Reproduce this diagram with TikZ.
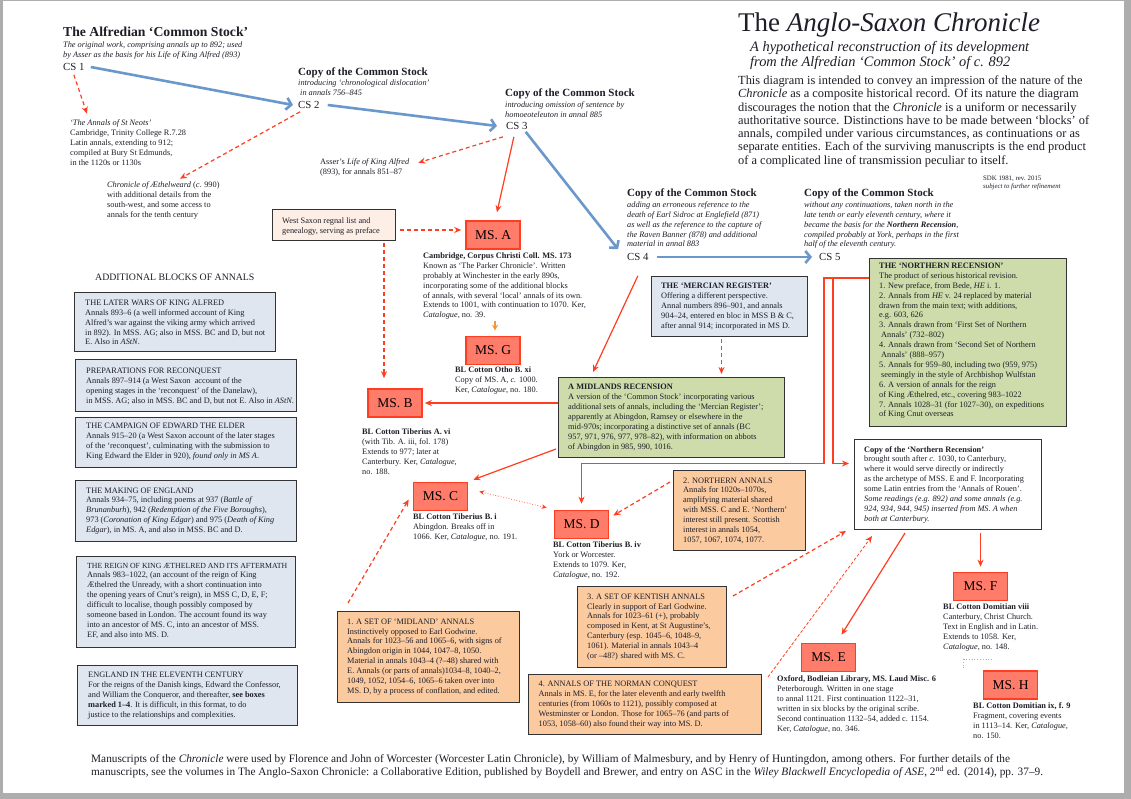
\documentclass[tikz,border=0pt]{standalone}
\usepackage{fontspec}
\setmainfont{Liberation Serif}
\usetikzlibrary{positioning,arrows.meta,calc}

\definecolor{csblue}{HTML}{6B98CB}
\definecolor{linered}{HTML}{FF3D20}
\definecolor{msred}{HTML}{FF7C6A}
\definecolor{blockblue}{HTML}{DFE6F0}
\definecolor{recgreen}{HTML}{CDDCAA}
\definecolor{annorange}{HTML}{FBCA9F}
\definecolor{wspeach}{HTML}{FDEFE5}
\definecolor{gorange}{HTML}{F39A2E}
\definecolor{dotblue}{HTML}{9DB2D2}
\definecolor{inkcol}{HTML}{1E1E28}

\newcommand{\smalltxt}{\fontsize{8.3}{9.9}\selectfont}
\newcommand{\itxt}{\fontsize{8.3}{9.8}\selectfont\itshape}
\newcommand{\headtxt}{\fontsize{11}{13}\selectfont\bfseries}

\tikzset{
    msnode/.style={
        rectangle,
        draw=linered, % red border
        fill=msred,
        line width=1.6pt,
        minimum width=54pt,
        minimum height=28pt,
        inner sep=0,
        font=\fontsize{13.5}{15}\selectfont
    },
    txtnode/.style={
        anchor=north west,
        align=left,
        inner sep=0,
        text=inkcol,
        font=\smalltxt
    },
    cslabel/.style={
        anchor=west,
        inner sep=1pt,
        text=inkcol,
        font=\fontsize{10.8}{12}\selectfont
    },
    boxbase/.style={
        rectangle,
        anchor=north west,
        draw=black!80,
        line width=1pt,
        inner sep=0
    },
    blockbox/.style={boxbase, fill=blockblue},
    recbox/.style={boxbase, fill=recgreen},
    annbox/.style={boxbase, fill=annorange},
    copybox/.style={boxbase, fill=white},
    prefacebox/.style={boxbase, fill=wspeach}
}

\begin{document}
\begin{tikzpicture}[
    x=1pt, y=-1pt,
    bluearrow/.style={draw=csblue, line width=2.6pt, -{Straight Barb[length=5pt,width=12pt]}},
    redarrow/.style={draw=linered, line width=1.2pt, -{Stealth[length=7pt,width=6pt]}},
    reddash/.style={redarrow, dash pattern=on 4pt off 3pt},
    redfine/.style={redarrow, line width=0.8pt, dash pattern=on 3pt off 2pt},
    reddot/.style={draw=linered, line width=0.7pt, dotted, {Stealth[length=5pt,width=4.5pt]}-{Stealth[length=5pt,width=4.5pt]}},
    orangearrow/.style={draw=gorange, line width=1.3pt, -{Stealth[length=6pt,width=6pt]}}
]
\useasboundingbox (0,0) rectangle (1131,799);
% page
\fill[black!32] (0,0) rectangle (1131,799);
\fill[white] (3,1.5) rectangle (1124,793);

% title and introduction
\node[txtnode, font=\fontsize{27}{30}\selectfont] (title) at (738,13) {The \textit{Anglo-Saxon Chronicle}};
\node[txtnode, font=\fontsize{14.4}{15.2}\selectfont\itshape] (subtitle) at (750,41) {A hypothetical reconstruction of its development\\
from the Alfredian ‘Common Stock’ of c. 892};
\node[txtnode, font=\fontsize{12.4}{13.3}\selectfont] (intro) at (738,75.5) {This diagram is intended to convey an impression of the nature of the\\
\textit{Chronicle} as a composite historical record. Of its nature the diagram\\
discourages the notion that the \textit{Chronicle} is a uniform or necessarily\\
authoritative source. Distinctions have to be made between ‘blocks’ of\\
annals, compiled under various circumstances, as continuations or as\\
separate entities. Each of the surviving manuscripts is the end product\\
of a complicated line of transmission peculiar to itself.};
\node[txtnode, font=\fontsize{6.8}{8.6}\selectfont] (sdk) at (983,175.5) {SDK 1981, rev. 2015\\
\textit{subject to further refinement}};

% the Common Stock
\node[txtnode, font=\fontsize{13.7}{16}\selectfont\bfseries] (alfred) at (63,26.7) {The Alfredian ‘Common Stock’};
\node[txtnode, font=\itxt] (alfrednote) at (63,41.7) {The original work, comprising annals up to 892; used\\
by Asser as the basis for his Life of King Alfred (893)};
\node[cslabel] (cs1) at (62,67) {CS 1};

\node[txtnode, font=\headtxt] (cs2head) at (298,67.7) {Copy of the Common Stock};
\node[txtnode, font=\itxt] (cs2note) at (298,79.7) {introducing ‘chronological dislocation’\\
\hspace{2pt}in annals 756–845};
\node[cslabel] (cs2) at (297,105) {CS 2};

\node[txtnode, font=\headtxt] (cs3head) at (505,88.7) {Copy of the Common Stock};
\node[txtnode, font=\itxt] (cs3note) at (505,101.7) {introducing omission of sentence by\\
homoeoteleuton in annal 885};
\node[cslabel] (cs3) at (505,126) {CS 3};

\node[txtnode, font=\headtxt] (cs4head) at (627,188.7) {Copy of the Common Stock};
\node[txtnode, font=\itxt] (cs4note) at (627,201.7) {adding an erroneous reference to the\\
death of Earl Sidroc at Englefield (871)\\
as well as the reference to the capture of\\
the Raven Banner (878) and additional\\
material in annal 883};
\node[cslabel] (cs4) at (626,257) {CS 4};

\node[txtnode, font=\headtxt] (cs5head) at (804,188.7) {Copy of the Common Stock};
\node[txtnode, font=\itxt] (cs5note) at (804,201.7) {without any continuations, taken north in the\\
late tenth or early eleventh century, where it\\
became the basis for the \textbf{Northern Recension},\\
compiled probably at York, perhaps in the first\\
half of the eleventh century.};
\node[cslabel] (cs5) at (818,257) {CS 5};

% early derivatives
\node[txtnode] (stneots) at (70,119.7) {\textit{‘The Annals of St Neots’}\\
Cambridge, Trinity College R.7.28\\
Latin annals, extending to 912;\\
compiled at Bury St Edmunds,\\
in the 1120s or 1130s};
\node[txtnode] (aethel) at (107,181.7) {\textit{Chronicle of Æthelweard} (\textit{c.} 990)\\
with additional details from the\\
south-west, and some access to\\
annals for the tenth century};
\node[txtnode] (asser) at (320,158.7) {Asser’s \textit{Life of King Alfred}\\
(893), for annals 851–87};

\node[prefacebox, minimum width=123pt, minimum height=31pt] (wsbox) at (272,209) {};
\node[txtnode, below right=8.7pt and 10pt of wsbox.north west] (wstxt) {West Saxon regnal list and\\
genealogy, serving as preface};

% additional blocks of annals
\node[txtnode, font=\fontsize{9.8}{11}\selectfont] (addhead) at (95,273.8) {ADDITIONAL BLOCKS OF ANNALS};

\node[blockbox, minimum width=201pt, minimum height=59pt] (wars) at (74,292) {};
\node[txtnode, below right=7.7pt and 11pt of wars.north west] (warstxt) {THE LATER WARS OF KING ALFRED\\
Annals 893–6 (a well informed account of King\\
Alfred’s war against the viking army which arrived\\
in 892). In MSS. AG; also in MSS. BC and D, but not\\
E. Also in \textit{AStN}.};

\node[blockbox, minimum width=221pt, minimum height=52pt] (reconq) at (75,359) {};
\node[txtnode, below right=9.1pt and 11pt of reconq.north west] (reconqtxt) {PREPARATIONS FOR RECONQUEST\\
Annals 897–914 (a West Saxon\ \ account of the\\
opening stages in the ‘reconquest’ of the Danelaw),\\
in MSS. AG; also in MSS. BC and D, but not E. Also in \textit{AStN}.};

\node[blockbox, minimum width=221pt, minimum height=50pt] (edward) at (75,417) {};
\node[txtnode, below right=5.7pt and 11pt of edward.north west] (edwardtxt) {THE CAMPAIGN OF EDWARD THE ELDER\\
Annals 915–20 (a West Saxon account of the later stages\\
of the ‘reconquest’, culminating with the submission to\\
King Edward the Elder in 920), \textit{found only in MS A}.};

\node[blockbox, minimum width=221pt, minimum height=61pt] (making) at (75,480) {};
\node[txtnode, below right=7.4pt and 11pt of making.north west] (makingtxt) {THE MAKING OF ENGLAND\\
Annals 934–75, including poems at 937 (\textit{Battle of}\\
\textit{Brunanburh}), 942 (\textit{Redemption of the Five Boroughs}),\\
973 (\textit{Coronation of King Edgar}) and 975 (\textit{Death of King}\\
\textit{Edgar}), in MS. A, and also in MSS. BC and D.};

\node[blockbox, minimum width=219pt, minimum height=91pt] (aethelred) at (76,556) {};
\node[txtnode, below right=6.7pt and 11pt of aethelred.north west] (aethelredtxt) {{\fontsize{7.8}{9.9}\selectfont THE REIGN OF KING ÆTHELRED AND ITS AFTERMATH}\\
Annals 983–1022, (an account of the reign of King\\
Æthelred the Unready, with a short continuation into\\
the opening years of Cnut’s reign), in MSS C, D, E, F;\\
difficult to localise, though possibly composed by\\
someone based in London. The account found its way\\
into an ancestor of MS. C, into an ancestor of MSS.\\
EF, and also into MS. D.};

\node[blockbox, minimum width=220pt, minimum height=60pt] (eleventh) at (77,665) {};
\node[txtnode, below right=7.1pt and 11pt of eleventh.north west] (eleventhtxt) {ENGLAND IN THE ELEVENTH CENTURY\\
For the reigns of the Danish kings, Edward the Confessor,\\
and William the Conqueror, and thereafter, \textbf{see boxes}\\
\textbf{marked 1–4}. It is difficult, in this format, to do\\
justice to the relationships and complexities.};

% manuscripts
\node[msnode] (msA) at (493,235) {MS. A};
\node[txtnode] (msAtxt) at (423,252.5) {\textbf{Cambridge, Corpus Christi Coll. MS. 173}\\
Known as ‘The Parker Chronicle’. Written\\
probably at Winchester in the early 890s,\\
incorporating some of the additional blocks\\
of annals, with several ‘local’ annals of its own.\\
Extends to 1001, with continuation to 1070. Ker,\\
\textit{Catalogue}, no. 39.};

\node[msnode] (msG) at (493,350.5) {MS. G};
\node[txtnode] (msGtxt) at (455,366.5) {\textbf{BL Cotton Otho B. xi}\\
Copy of MS. A, \textit{c.} 1000.\\
Ker, \textit{Catalogue}, no. 180.};

\node[msnode] (msB) at (395,403) {MS. B};
\node[txtnode] (msBtxt) at (362,428.5) {\textbf{BL Cotton Tiberius A. vi}\\
(with Tib. A. iii, fol. 178)\\
Extends to 977; later at\\
Canterbury. Ker, \textit{Catalogue},\\
no. 188.};

\node[msnode] (msC) at (440.5,496.5) {MS. C};
\node[txtnode] (msCtxt) at (413,513.7) {\textbf{BL Cotton Tiberius B. i}\\
Abingdon. Breaks off in\\
1066. Ker, \textit{Catalogue}, no. 191.};

\node[msnode] (msD) at (581.5,524.5) {MS. D};
\node[txtnode] (msDtxt) at (553,541.7) {\textbf{BL Cotton Tiberius B. iv}\\
York or Worcester.\\
Extends to 1079. Ker,\\
\textit{Catalogue}, no. 192.};

\node[msnode] (msE) at (828.5,657.5) {MS. E};
\node[txtnode] (msEtxt) at (777,675.7) {\textbf{Oxford, Bodleian Library, MS. Laud Misc. 6}\\
Peterborough. Written in one stage\\
to annal 1121. First continuation 1122–31,\\
written in six blocks by the original scribe.\\
Second continuation 1132–54, added c. 1154.\\
Ker, \textit{Catalogue}, no. 346.};

\node[msnode] (msF) at (980.5,586.5) {MS. F};
\node[txtnode] (msFtxt) at (943,603.7) {\textbf{BL Cotton Domitian viii}\\
Canterbury, Christ Church.\\
Text in English and in Latin.\\
Extends to 1058. Ker,\\
\textit{Catalogue}, no. 148.};

\node[msnode] (msH) at (1010.5,685) {MS. H};
\node[txtnode] (msHtxt) at (973,702.7) {\textbf{BL Cotton Domitian ix, f. 9}\\
Fragment, covering events\\
in 1113–14. Ker, \textit{Catalogue},\\
no. 150.};

% recensions
\node[boxbase, fill=blockblue, minimum width=156pt, minimum height=60pt] (mercian) at (651,276) {};
\node[txtnode, below right=6.7pt and 10pt of mercian.north west] (merciantxt) {\textbf{THE ‘MERCIAN REGISTER’}\\
Offering a different perspective.\\
Annal numbers 896–901, and annals\\
904–24, entered en bloc in MSS B \& C,\\
after annal 914; incorporated in MS D.};

\node[recbox, minimum width=226pt, minimum height=80pt] (midlands) at (558,377) {};
\node[txtnode, below right=7.1pt and 10pt of midlands.north west] (midlandstxt) {\textbf{A MIDLANDS RECENSION}\\
A version of the ‘Common Stock’ incorporating various\\
additional sets of annals, including the ‘Mercian Register’;\\
apparently at Abingdon, Ramsey or elsewhere in the\\
mid-970s; incorporating a distinctive set of annals (BC\\
957, 971, 976, 977, 978–82), with information on abbots\\
of Abingdon in 985, 990, 1016.};

\node[recbox, minimum width=197pt, minimum height=168pt] (nrec) at (869,258) {};
\node[txtnode, below right=4.7pt and 10pt of nrec.north west] (nrectxt) {\textbf{THE ‘NORTHERN RECENSION’}\\
The product of serious historical revision.\\
1. New preface, from Bede, \textit{HE} i. 1.\\
2. Annals from \textit{HE} v. 24 replaced by material\\
drawn from the main text; with additions,\\
e.g. 603, 626\\
3. Annals drawn from ‘First Set of Northern\\
\hspace{2pt}Annals’ (732–802)\\
4. Annals drawn from ‘Second Set of Northern\\
\hspace{2pt}Annals’ (888–957)\\
5. Annals for 959–80, including two (959, 975)\\
\hspace{2pt}seemingly in the style of Archbishop Wulfstan\\
6. A version of annals for the reign\\
of King Æthelred, etc., covering 983–1022\\
7. Annals 1028–31 (for 1027–30), on expeditions\\
of King Cnut overseas};

\node[copybox, minimum width=187pt, minimum height=90pt] (copynr) at (854,439) {};
\node[txtnode, below right=7pt and 10pt of copynr.north west] (copynrtxt) {\textbf{Copy of the ‘Northern Recension’}\\
brought south after \textit{c.} 1030, to Canterbury,\\
where it would serve directly or indirectly\\
as the archetype of MSS. E and F. Incorporating\\
some Latin entries from the ‘Annals of Rouen’.\\
\textit{Some readings (e.g. 892) and some annals (e.g.}\\
\textit{924, 934, 944, 945) inserted from MS. A when}\\
\textit{both at Canterbury.}};

% eleventh-century blocks 1-4
\node[annbox, minimum width=182pt, minimum height=91pt] (ann1) at (337,611) {};
\node[txtnode, below right=7.4pt and 10pt of ann1.north west] (ann1txt) {1. A SET OF ‘MIDLAND’ ANNALS\\
Instinctively opposed to Earl Godwine.\\
Annals for 1023–56 and 1065–6, with signs of\\
Abingdon origin in 1044, 1047–8, 1050.\\
Material in annals 1043–4 (?–48) shared with\\
E. Annals (or parts of annals)1034–8, 1040–2,\\
1049, 1052, 1054–6, 1065–6 taken over into\\
MS. D, by a process of conflation, and edited.};

\node[annbox, minimum width=132pt, minimum height=80pt] (ann2) at (673,470) {};
\node[txtnode, below right=7.4pt and 10pt of ann2.north west] (ann2txt) {2. NORTHERN ANNALS\\
Annals for 1020s–1070s,\\
amplifying material shared\\
with MSS. C and E. ‘Northern’\\
interest still present. Scottish\\
interest in annals 1054,\\
1057, 1067, 1074, 1077.};

\node[annbox, minimum width=149pt, minimum height=81pt] (ann3) at (577,586) {};
\node[txtnode, below right=7.4pt and 10pt of ann3.north west] (ann3txt) {3. A SET OF KENTISH ANNALS\\
Clearly in support of Earl Godwine.\\
Annals for 1023–61 (+), probably\\
composed in Kent, at St Augustine’s,\\
Canterbury (esp. 1045–6, 1048–9,\\
1061). Material in annals 1043–4\\
(or –48?) shared with MS. C.};

\node[annbox, minimum width=233pt, minimum height=60pt] (ann4) at (528,674) {};
\node[txtnode, below right=7pt and 10.5pt of ann4.north west] (ann4txt) {4. ANNALS OF THE NORMAN CONQUEST\\
Annals in MS. E, for the later eleventh and early twelfth\\
centuries (from 1060s to 1121), possibly composed at\\
Westminster or London. Those for 1065–76 (and parts of\\
1053, 1058–60) also found their way into MS. D.};

% footnote
\node[txtnode, font=\fontsize{11.3}{12.6}\selectfont] (footer) at (91,754.4) {Manuscripts of the \textit{Chronicle} were used by Florence and John of Worcester (Worcester Latin Chronicle), by William of Malmesbury, and by Henry of Huntingdon, among others. For further details of the\\
manuscripts, see the volumes in The Anglo-Saxon Chronicle: a Collaborative Edition, published by Boydell and Brewer, and entry on ASC in the \textit{Wiley Blackwell Encyclopedia of ASE}, 2\textsuperscript{nd} ed. (2014), pp. 37–9.};

% line of the Common Stock
\draw[bluearrow] ([xshift=5pt]cs1.east) -- ([xshift=-4pt]cs2.west);
\draw[bluearrow] ([xshift=7pt]cs2.east) -- ([xshift=-8pt]cs3.west);
\draw[bluearrow] ([shift={(-3,1)}]cs3.south east) -- ([shift={(-8,-3)}]cs4.north west);
\draw[bluearrow] ([xshift=7pt]cs4.east) -- ([xshift=-6pt]cs5.west);

% early derivatives
\draw[reddash] ([yshift=-3pt]cs1.south) -- ([shift={(17,-6)}]stneots.north west);
\draw[reddash] ([shift={(3,2)}]cs2.south west) -- ([shift={(73,-3)}]aethel.north west);
\draw[reddash] ([shift={(-2,6)}]cs3.south west) -- ([shift={(9,4)}]asser.north east);
\draw[redarrow] ([shift={(-3,6)}]cs3.south) -- ([shift={(4,-8)}]msA.north);
\draw[reddash] ([shift={(4,5)}]wsbox.east) -- ([shift={(-4,-5)}]msA.west);
\draw[reddash] ([shift={(-12,2)}]wsbox.south east) -- ($(wsbox.south east |- msB.north)+(-12,-10)$);
\draw[orangearrow] ($(msAtxt.south -| msG.north)+(2,1)$) -- ([shift={(2,-5)}]msG.north);

% Midlands recension
\draw[redarrow] ([yshift=-14pt]cs4.south) -- ([shift={(35,-5)}]midlands.north west);
\draw[reddash] ([shift={(-8,2)}]mercian.south) -- ($(mercian.south |- midlands.north)+(-8,-3)$);
\draw[redarrow] (midlands.west |- msB.east) -- ([xshift=2pt]msB.east);
\draw[redarrow] ([shift={(-2,-9)}]midlands.south west) -- ([shift={(5,-2)}]msC.north east);
\draw[reddot] ([shift={(11,-5)}]msC.east) -- ([shift={(-7,-2)}]msD.north west);

% Northern recension
\coordinate (nrout) at ([yshift=-20pt]nrec.north west);
\coordinate (nrbend) at ($(copynr.west)+(-30,-21)$);
\draw[redarrow] (nrout) -| (nrbend) -| ([yshift=6pt]msD.north);
\draw[redarrow] ($(nrout)+(-36,0)$) |- ([shift={(-5,-21)}]copynr.west);
\draw[redarrow] ($(copynr.south -| msF.north)+(0,3)$) -- ([yshift=5pt]msF.north);
\draw[redarrow] ($(copynr.south west)+(51,3)$) -- ($(msE.north)+(13,-8)$);
\draw[dotblue, dotted, line width=0.8pt] ($(msH.north west)+(-19,-2)$) |- ($(msH.north west)+(11,-11)$);

% eleventh-century blocks
\draw[reddash] ([shift={(11,-8)}]ann1.north west) -- ([shift={(-4,3)}]msC.west);
\draw[reddash] ([shift={(-3,12)}]ann2.north west) -- ([shift={(4,-9)}]msD.east);
\draw[reddash] ([shift={(6,10)}]ann3.north east) -- ([shift={(-8,1)}]copynr.south west);
\draw[redfine] ([shift={(6,3)}]ann4.north east) -- ([shift={(18,6)}]copynr.south west);
\end{tikzpicture}
\end{document}
